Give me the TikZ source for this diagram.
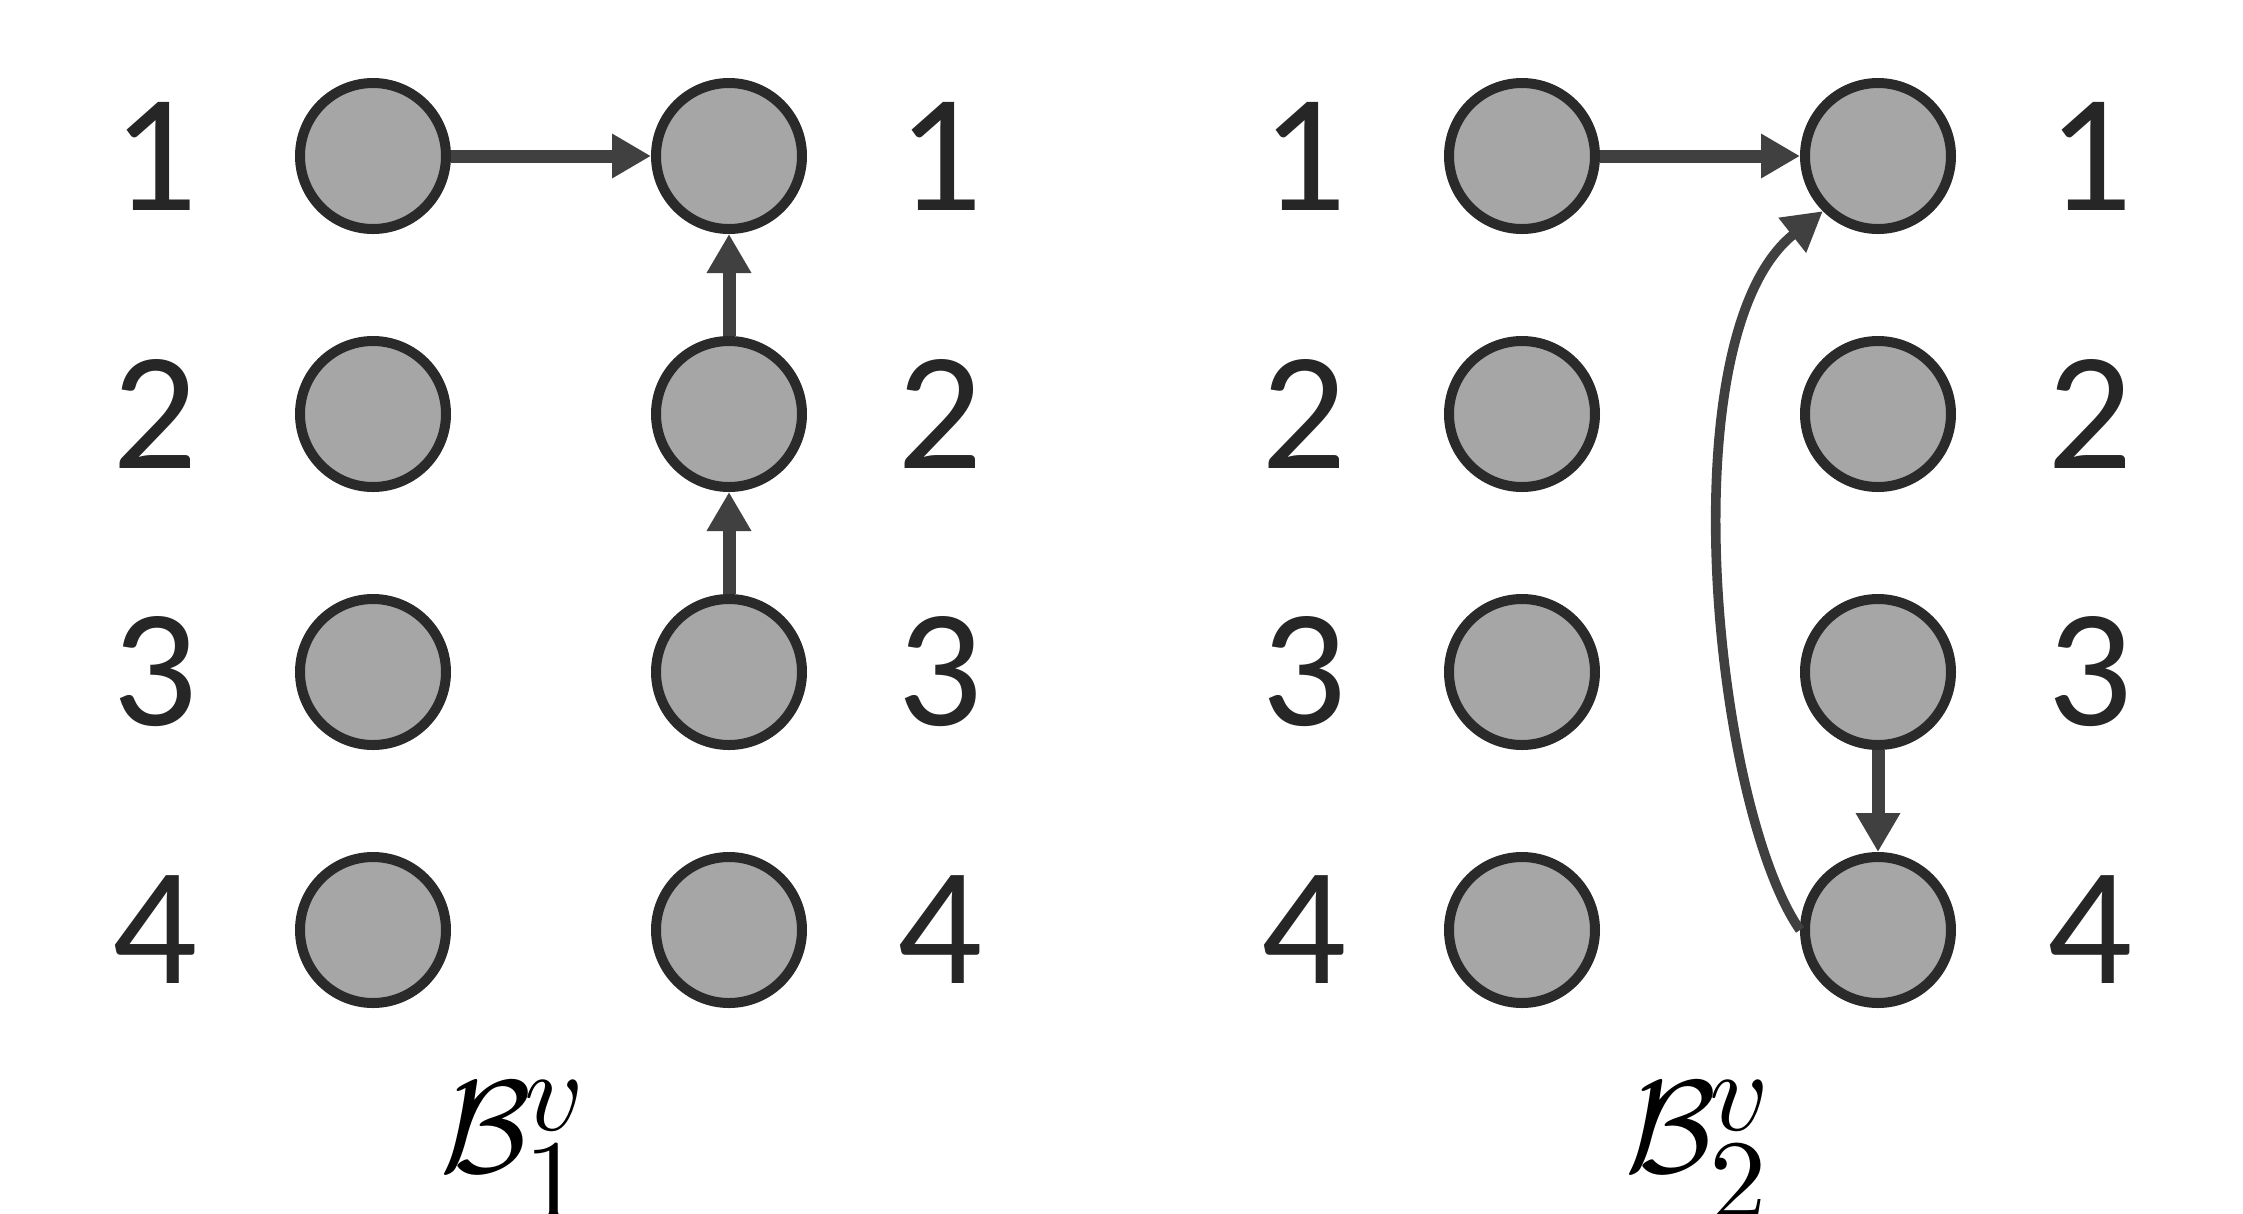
\documentclass[tikz,border=0pt]{standalone}
\usepackage[no-math]{fontspec}
\setmainfont{Carlito}
\DeclareFontShape{OMS}{cmsy}{m}{n}{<->cmsy10}{}
\DeclareFontShape{OML}{cmm}{m}{it}{<->cmmi10}{}
\DeclareFontShape{OT1}{cmr}{m}{n}{<->cmr10}{}
\usetikzlibrary{arrows.meta}
\definecolor{circ}{HTML}{2A2A2A}
\definecolor{fillc}{HTML}{A6A6A6}
\definecolor{arrc}{HTML}{404040}
\definecolor{txt}{HTML}{262626}
\tikzset{
  dot/.style={circle, draw=circ, fill=fillc, line width=2.5pt, minimum size=36.5pt, inner sep=0pt},
  lab/.style={inner sep=0pt, text=txt, font=\fontsize{42}{46}\selectfont},
  arr/.style={draw=arrc, line width=3.25pt, -{Triangle[length=9.75pt,width=10.5pt]}},
  carr/.style={draw=arrc, line width=2.4pt, -{Triangle[length=9.75pt,width=10.5pt]}},
  captext/.style={inner sep=0pt, anchor=base west, font=\fontsize{33}{38}\selectfont},
}
\newcommand\scr[1]{{\fontsize{28.7}{30}\selectfont\(#1\)}}
\newcommand\capB[1]{\makebox[21pt][l]{\(\mathcal{B}\)}\rlap{\raisebox{10.5pt}{\scr{v}}}\raisebox{-11.75pt}{\scr{#1}}}
\begin{document}
\begin{tikzpicture}[x=0.25pt, y=-0.25pt]
\useasboundingbox (0,0) rectangle (2243,1213);
\foreach \r/\y in {1/156,2/414,3/672,4/930}{
  \node[dot] (a\r) at (373,\y) {};
  \node[dot] (b\r) at (729,\y) {};
  \node[lab] (la\r) at (155,\y) {\r};
  \node[lab] (lb\r) at (940,\y) {\r};
  \node[dot] (c\r) at (1522,\y) {};
  \node[dot] (d\r) at (1878,\y) {};
  \node[lab] (lc\r) at (1304,\y) {\r};
  \node[lab] (ld\r) at (2090,\y) {\r};
}
\draw[arr] (a1) -- (b1);
\draw[arr] (b2) -- (b1);
\draw[arr] (b3) -- (b2);
\draw[arr] (c1) -- (d1);
\draw[arr] (d3) -- (d4);
\draw[carr] (d4.west) .. controls (1714.5,807) and (1666,335) .. (d1.225);
\node[captext] (cap1) at (440,1172) {\capB{1}};
\node[captext] (cap2) at (1625,1172) {\capB{2}};
\end{tikzpicture}
\end{document}
